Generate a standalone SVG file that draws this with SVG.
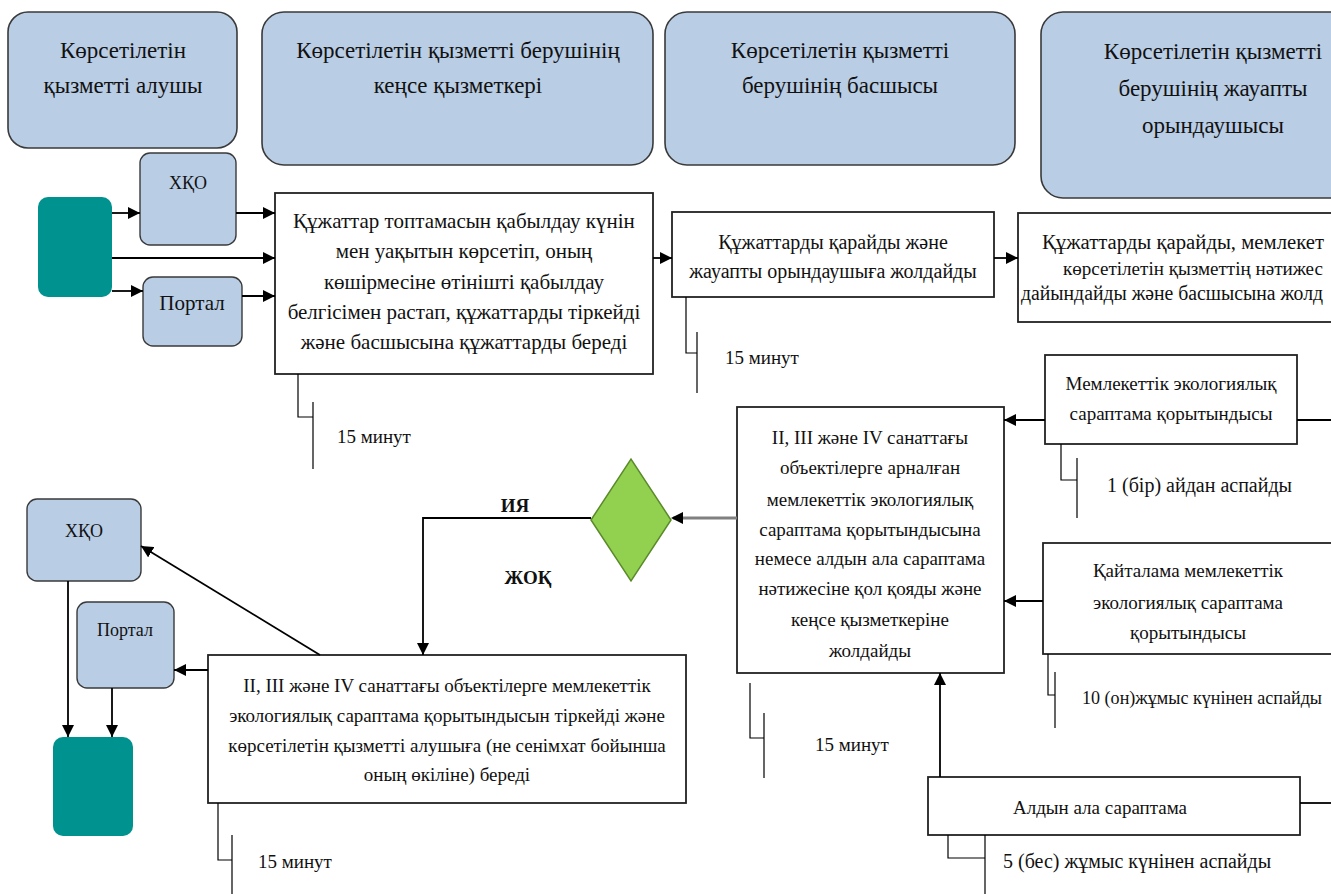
<svg xmlns="http://www.w3.org/2000/svg" width="1331" height="894" viewBox="0 0 1331 894">
<defs>
<marker id="ah" viewBox="0 0 10 10" refX="10" refY="5" markerWidth="12" markerHeight="12" markerUnits="userSpaceOnUse" orient="auto"><path d="M0,0 L10,5 L0,10 z" fill="#000"/></marker>
<style>
.hdr{fill:#B9CDE5;stroke:#3a3a3a;stroke-width:1.6}
.sm{fill:#B9CDE5;stroke:#3a3a3a;stroke-width:1.4}
.proc{fill:#fff;stroke:#222;stroke-width:1.8}
.teal{fill:#00928F}
.t{font-family:'Liberation Serif','Times New Roman',serif;fill:#111;text-anchor:middle}
.s{font-family:'Liberation Serif','Times New Roman',serif;fill:#111;text-anchor:start}
.h{font-size:23px}
.b{font-size:19px}
.b1{font-size:21px}
.b2{font-size:20px}
.l{font-size:20px}
.m{font-size:19px}
.bold{font-weight:bold;font-size:19px}
.c{stroke:#000;stroke-width:1.8;fill:none}
.g{stroke:#808080;stroke-width:3;fill:none}
.br{stroke:#000;stroke-width:1.2;fill:none}
</style>
</defs>
<rect width="1331" height="894" fill="#fff"/>

<g id="header1"><rect class="hdr" x="8" y="12" width="229" height="136" rx="20"/>
<text class="t h" x="123" y="58">Көрсетілетін</text><text class="t h" x="123" y="93">қызметті алушы</text></g>
<g id="header2"><rect class="hdr" x="262" y="12" width="391" height="153" rx="22"/>
<text class="t h" x="458" y="58">Көрсетілетін қызметті берушінің</text><text class="t h" x="458" y="93">кеңсе қызметкері</text></g>
<g id="header3"><rect class="hdr" x="665" y="12" width="350" height="153" rx="22"/>
<text class="t h" x="840" y="58">Көрсетілетін қызметті</text><text class="t h" x="840" y="93">берушінің басшысы</text></g>
<g id="header4"><rect class="hdr" x="1041" y="12" width="320" height="186" rx="22"/>
<text class="t h" x="1213" y="59">Көрсетілетін қызметті</text><text class="t h" x="1213" y="96">берушінің жауапты</text><text class="t h" x="1213" y="133">орындаушысы</text></g>

<g id="start"><rect class="teal" x="38" y="197" width="74" height="100" rx="10"/></g>
<g id="hqo1"><rect class="sm" x="140" y="153" width="96" height="92" rx="10"/><text class="t" style="font-size:18px" x="188" y="189">ХҚО</text></g>
<g id="portal1"><rect class="sm" x="143" y="277" width="99" height="69" rx="10"/><text class="t" style="font-size:21px" x="192" y="310">Портал</text></g>

<g id="box1"><rect class="proc" x="275" y="193" width="378" height="181"/>
<text class="t b1" x="464" y="228">Құжаттар топтамасын қабылдау күнін</text>
<text class="t b1" x="464" y="258">мен уақытын көрсетіп, оның</text>
<text class="t b1" x="464" y="289">көшірмесіне өтінішті қабылдау</text>
<text class="t b1" x="464" y="319">белгісімен растап, құжаттарды тіркейді</text>
<text class="t b1" x="464" y="349">және басшысына құжаттарды береді</text></g>

<g id="box2"><rect class="proc" x="672" y="212" width="322" height="85"/>
<text class="t b2" x="833" y="249">Құжаттарды қарайды және</text>
<text class="t b2" x="833" y="278">жауапты орындаушыға жолдайды</text></g>

<g id="box3"><rect class="proc" x="1018" y="213" width="330" height="109"/>
<text class="s b2" x="1042" y="249" textLength="282" lengthAdjust="spacingAndGlyphs">Құжаттарды қарайды, мемлекет</text>
<text class="s" style="font-size:18px" x="1063" y="275" textLength="260" lengthAdjust="spacingAndGlyphs">көрсетілетін қызметтің нәтижес</text>
<text class="s b2" x="1021" y="300" textLength="302" lengthAdjust="spacingAndGlyphs">дайындайды және басшысына жолд</text></g>

<g id="expertise"><rect class="proc" x="1045" y="355" width="252" height="89"/>
<text class="t b" x="1171" y="390">Мемлекеттік экологиялық</text>
<text class="t b" x="1171" y="420">сараптама қорытындысы</text></g>

<g id="sign"><rect class="proc" x="737" y="407" width="267" height="266"/>
<text class="t b" x="870" y="444">II, III және IV санаттағы</text>
<text class="t b" x="870" y="474">объектілерге арналған</text>
<text class="t b" x="870" y="506">мемлекеттік экологиялық</text>
<text class="t b" x="870" y="536">сараптама қорытындысына</text>
<text class="t b" x="870" y="565">немесе алдын ала сараптама</text>
<text class="t b" x="870" y="595">нәтижесіне қол қояды және</text>
<text class="t b" x="870" y="626">кеңсе қызметкеріне</text>
<text class="t b" x="870" y="657">жолдайды</text></g>

<g id="decision"><polygon points="591,520 631,459 671,520 631,581" fill="#92D050" stroke="#5a8a2a" stroke-width="1.5"/></g>

<g id="repeat"><rect class="proc" x="1043" y="543" width="300" height="111"/>
<text class="t b" x="1188" y="577">Қайталама мемлекеттік</text>
<text class="t b" x="1188" y="609">экологиялық сараптама</text>
<text class="t b" x="1188" y="639">қорытындысы</text></g>

<g id="prelim"><rect class="proc" x="928" y="777" width="372" height="58"/>
<text class="t b" x="1100" y="814">Алдын ала сараптама</text></g>

<g id="box4"><rect class="proc" x="208" y="655" width="478" height="148"/>
<text class="t b" x="447" y="692">II, III және IV санаттағы объектілерге мемлекеттік</text>
<text class="t b" x="447" y="722">экологиялық сараптама қорытындысын тіркейді және</text>
<text class="t b" x="447" y="752">көрсетілетін қызметті  алушыға (не сенімхат бойынша</text>
<text class="t b" x="447" y="781">оның өкіліне) береді</text></g>

<g id="hqo2"><rect class="sm" x="27" y="499" width="114" height="82" rx="10"/><text class="t" style="font-size:18px" x="84" y="537">ХҚО</text></g>
<g id="portal2"><rect class="sm" x="77" y="602" width="97" height="86" rx="10"/><text class="t" style="font-size:18px" x="125" y="636">Портал</text></g>
<g id="end"><rect class="teal" x="53" y="737" width="80" height="99" rx="10"/></g>

<g id="connectors">
<path class="c" d="M112,213 H140" marker-end="url(#ah)"/>
<path class="c" d="M236,213 H275" marker-end="url(#ah)"/>
<path class="c" d="M112,258 H275" marker-end="url(#ah)"/>
<path class="c" d="M112,291 H143" marker-end="url(#ah)"/>
<path class="c" d="M242,296 H275" marker-end="url(#ah)"/>
<path class="c" d="M653,258 H672" marker-end="url(#ah)"/>
<path class="c" d="M994,258 H1018" marker-end="url(#ah)"/>
<path class="c" d="M1045,420 H1004" marker-end="url(#ah)"/>
<path class="c" d="M1297,420 H1331"/>
<path class="c" d="M1043,601 H1004" marker-end="url(#ah)"/>
<path class="c" d="M940,777 V673" marker-end="url(#ah)"/>
<path class="c" d="M1300,803 H1331"/>
<path class="g" d="M737,518 H673"/>
<path d="M671,518 L683,512 L683,524 z" fill="#000"/>
<path class="c" d="M591,518 H423 V655" marker-end="url(#ah)"/>
<path class="c" d="M208,670 H174" marker-end="url(#ah)"/>
<path class="c" d="M320,655 L141,546" marker-end="url(#ah)"/>
<path class="c" d="M68,581 V737" marker-end="url(#ah)"/>
<path class="c" d="M112,688 V737" marker-end="url(#ah)"/>
<path class="br" d="M298,374 V417 H313 M313,402 V469"/>
<path class="br" d="M686,297 V353 H697 M697,332 V393"/>
<path class="br" d="M1061,444 V480 H1077 M1077,458 V518"/>
<path class="br" d="M750,683 V738 H764 M764,713 V778"/>
<path class="br" d="M1048,654 V695 H1055 M1055,672 V728"/>
<path class="br" d="M948,835 V858 H985 M985,835 V894"/>
<path class="br" d="M218,803 V860 H232 M232,835 V894"/>
</g>

<g id="labels">
<text class="s m" x="337" y="443">15 минут</text>
<text class="s m" x="725" y="364">15 минут</text>
<text class="s l" x="1107" y="492">1 (бір) айдан аспайды</text>
<text class="s m" x="815" y="751">15 минут</text>
<text class="s" style="font-size:18px" x="1082" y="704" textLength="240" lengthAdjust="spacingAndGlyphs">10 (он)жұмыс күнінен аспайды</text>
<text class="s l" x="1003" y="868">5 (бес) жұмыс күнінен аспайды</text>
<text class="s m" x="258" y="868">15 минут</text>
<text class="t bold" x="515" y="512">ИЯ</text>
<text class="t bold" x="528" y="584">ЖОҚ</text>
</g>
</svg>
